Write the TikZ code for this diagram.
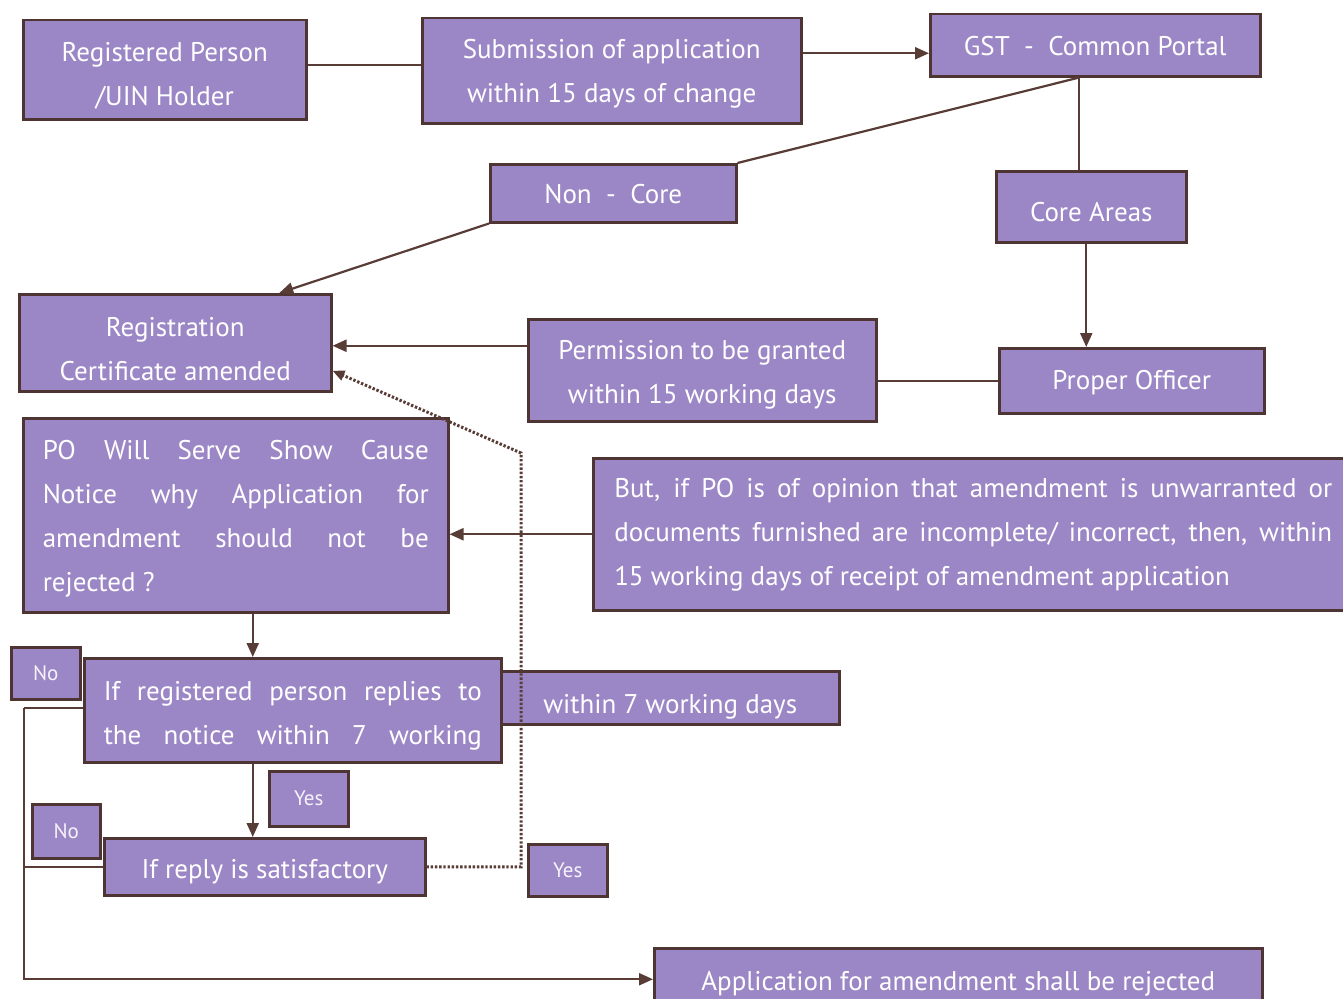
\documentclass[tikz,border=0pt]{standalone}
\usepackage{fontspec}
\setmainfont{PT Sans}
\usetikzlibrary{arrows.meta}
\definecolor{boxfill}{RGB}{156,135,198}
\definecolor{boxline}{RGB}{78,52,50}
\definecolor{wire}{RGB}{88,60,54}
\newcommand\boxfont{\fontsize{27}{44}\selectfont}
\newcommand\tagfont{\fontsize{21}{22}\selectfont}
% move the ink of a box down without changing its size
\newcommand\drop[2]{\raisebox{-#1}[\height][\depth]{#2}}
% lowered, centred block of lines
\newcommand\lowered[3]{\drop{#1}{\parbox{#2}{\centering #3}}}
\tikzset{
  box/.style={draw=boxline, line width=2.5pt, fill=boxfill, text=white,
    inner sep=0pt, anchor=north west, font=\boxfont, align=center},
  tag/.style={box, font=\tagfont, text=white!90!boxfill},
  wire/.style={draw=wire, line width=2.2pt},
  arrow/.style={wire, -{Triangle[length=14pt,width=12pt]}},
  dotted wire/.style={draw=wire, line width=3pt, dash pattern=on 2.4pt off 1.8pt},
}
\begin{document}
\begin{tikzpicture}[x=1pt,y=-1pt]
\useasboundingbox (0,0) rectangle (1343,998);
\clip (0,0) rectangle (1343,998);

% top row
\node[box, minimum width=283pt, minimum height=99pt] (rp) at (22,19)
  {\lowered{6pt}{280pt}{Registered Person\\/UIN Holder}};
\node[box, minimum width=379pt, minimum height=105pt] (sub) at (421,17)
  {\lowered{3pt}{370pt}{Submission of application\\within 15 days of change}};
\node[box, minimum width=330pt, minimum height=62pt] (gst) at (929,13)
  {\drop{1pt}{GST\ \ -\ \ Common Portal}};

% second row
\node[box, minimum width=246pt, minimum height=58pt] (noncore) at (489,163)
  {\drop{1pt}{Non\ \ -\ \ Core}};
\node[box, minimum width=190pt, minimum height=71pt] (core) at (995,170)
  {\drop{5pt}{Core Areas}};

% certificate / permission / officer
\node[box, minimum width=312pt, minimum height=97pt] (reg) at (18,293)
  {\lowered{6pt}{300pt}{Registration\\Certificate amended}};
\node[box, minimum width=348pt, minimum height=102pt] (perm) at (527,318)
  {\lowered{5pt}{340pt}{Permission to be granted\\within 15 working days}};
\node[box, minimum width=265pt, minimum height=65pt] (officer) at (998,347)
  {\drop{2pt}{Proper Officer}};

% show cause notice
\node[box, minimum width=425pt, minimum height=194pt] (notice) at (22,417)
  {\drop{3pt}{\parbox{386pt}{\raggedright
   \makebox[386pt][s]{PO\ \ Will\ \ Serve\ \ Show\ \ Cause}\\
   \makebox[386pt][s]{Notice\ \ why\ \ Application\ \ for}\\
   \makebox[386pt][s]{amendment\ \ should\ \ not\ \ be}\\
   rejected ?}}};
\node[box, minimum width=760pt, minimum height=152pt] (opinion) at (592,457)
  {\parbox{718pt}{\raggedright
   \makebox[718pt][s]{But, if PO is of opinion that amendment is unwarranted or}\\
   \makebox[718pt][s]{documents furnished are incomplete/ incorrect, then, within}\\
   15 working days of receipt of amendment application}};

% replies
\node[box, minimum width=417pt, minimum height=104pt] (replies) at (83,657)
  {\drop{6pt}{\parbox{378pt}{\raggedright
   \makebox[378pt][s]{If\ \ registered\ \ person\ \ replies\ \ to}\\
   \makebox[378pt][s]{the\ \ notice\ \ within\ \ 7\ \ working}}}};
\node[box, minimum width=338pt, minimum height=53pt] (within) at (500,670)
  {\drop{9pt}{within 7 working days}};
\node[box, minimum width=321pt, minimum height=57pt] (reply) at (103,837)
  {\drop{5pt}{If reply is satisfactory}};
\node[box, minimum width=608pt, minimum height=62pt] (reject) at (653,947)
  {\drop{4pt}{Application for amendment shall be rejected}};

% yes / no tags
\node[tag, minimum width=69pt, minimum height=52pt] (no1) at (10,646) {No};
\node[tag, minimum width=68pt, minimum height=54pt] (no2) at (31,803) {No};
\node[tag, minimum width=79pt, minimum height=55pt] (yes1) at (268,770) {Yes};
\node[tag, minimum width=79pt, minimum height=52pt] (yes2) at (527,843) {Yes};

% bend points of the rails
\coordinate (gstfoot) at ([xshift=-16pt]gst.south);
\coordinate (rail) at (24,708);
\coordinate (dotcol) at (521,453);
\coordinate (downcol) at ([xshift=17pt]notice.south);

% connectors
\draw[wire] ([yshift=5pt]rp.east) -- ([yshift=5pt]rp.east -| sub.west);
\draw[arrow] ([yshift=-8pt]sub.east |- gst.west) -- ([yshift=-8pt]gst.west);
\draw[wire] (gstfoot) -- (noncore.north east);
\draw[wire] (gstfoot) -- (gstfoot |- core.north);
\draw[arrow] ([xshift=-5pt]core.south) -- ([xshift=-5pt]core.south |- officer.north);
\draw[wire] (officer.west) -- (officer.west -| perm.east);
\draw[arrow] ([yshift=-3pt]perm.west |- reg.east) -- ([yshift=-3pt]reg.east);
\draw[arrow] (noncore.south west) -- ([xshift=104pt]reg.north);
\draw[arrow] (opinion.west) -- (opinion.west -| notice.east);
\draw[arrow] (downcol) -- (downcol |- replies.north);
\draw[arrow] (downcol |- replies.south) -- (downcol |- reply.north);
\draw[wire] (replies.west |- rail) -- (rail);
\draw[arrow] (rail) |- (reject.west);
\draw[wire] (reply.west) -- (reply.west -| rail);
\draw[dotted wire, -{Triangle[length=12pt,width=10pt]}]
  (reply.east) -| (dotcol) -- ([yshift=-28pt]reg.east);
\end{tikzpicture}
\end{document}
